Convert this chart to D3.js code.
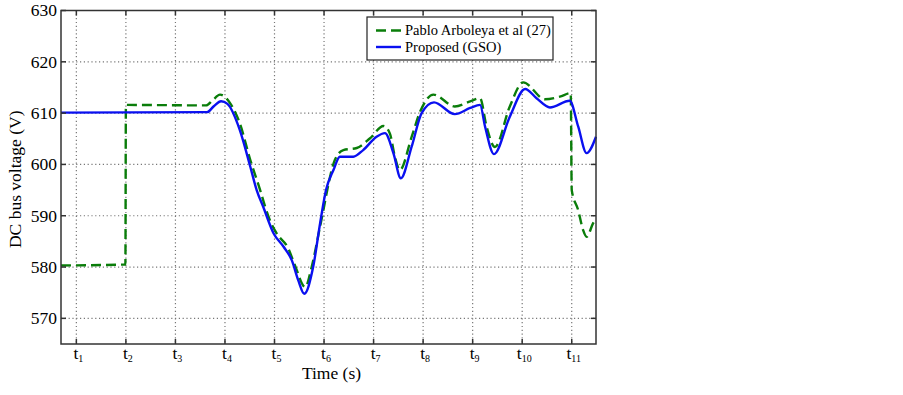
<!DOCTYPE html>
<html>
<head>
<meta charset="utf-8">
<script src="https://cdn.jsdelivr.net/npm/d3@7"></script>
<style>
  body { margin: 0; background: #fff; }
  text { font-family: "Liberation Serif", "DejaVu Serif", serif; fill: #000; }
</style>
</head>
<body>
<div id="chart"></div>
<script>
// time in units of the t_k marks, voltage in V
const tickTimes = [1, 2, 3, 4, 5, 6, 7, 8, 9, 10, 11];
const yTicks = [570, 580, 590, 600, 610, 620, 630];
const seriesNames = ['Pablo Arboleya et al (27)', 'Proposed (GSO)'];

const pabloT = [0.69, 1.99, 2.0, 3.62, 3.75, 3.9, 4.1, 4.3, 4.51, 4.71, 4.81, 4.88, 5.04, 5.28, 5.41, 5.62, 5.75, 5.92, 6.22, 6.39, 6.66, 6.93, 7.2, 7.33, 7.43, 7.53, 7.77, 7.94, 8.21, 8.64, 8.95, 9.15, 9.28, 9.45, 9.75, 10.02, 10.46, 10.76, 10.98, 11.0, 11.13, 11.23, 11.3, 11.43, 11.49];
const pabloV = [580.3, 580.5, 611.6, 611.5, 612.5, 613.6, 612.0, 608.0, 600.9, 595.0, 591.8, 589.8, 586.6, 583.6, 580.4, 576.1, 580.0, 587.9, 600.9, 602.8, 603.2, 605.1, 607.5, 606.0, 601.5, 598.9, 605.4, 610.3, 613.6, 611.3, 612.3, 612.9, 607.4, 603.4, 611.3, 616.0, 612.7, 613.2, 613.9, 595.0, 591.1, 587.2, 585.9, 588.5, 589.5];

const gsoT = [0.69, 3.64, 3.78, 3.92, 4.05, 4.3, 4.51, 4.64, 4.77, 4.98, 5.18, 5.35, 5.48, 5.6, 5.78, 5.92, 6.04, 6.19, 6.32, 6.59, 6.79, 7.06, 7.23, 7.4, 7.55, 7.77, 7.97, 8.22, 8.64, 8.95, 9.15, 9.25, 9.43, 9.75, 10.06, 10.29, 10.56, 10.96, 11.13, 11.3, 11.49];
const gsoV = [610.1, 610.2, 611.4, 612.3, 611.8, 606.7, 599.6, 595.0, 591.8, 586.6, 584.0, 581.3, 577.4, 574.8, 580.0, 588.5, 595.0, 598.9, 601.5, 601.5, 602.8, 605.4, 606.1, 602.2, 597.3, 603.5, 610.0, 612.1, 609.8, 611.0, 611.6, 607.4, 602.0, 609.3, 614.7, 612.9, 611.1, 612.4, 607.4, 602.2, 605.4];

const W = 903, H = 395;
const margin = {top: 10.5, right: 307, bottom: 51, left: 61};
const w = W - margin.left - margin.right;
const h = H - margin.top - margin.bottom;

const svg = d3.select('#chart').append('svg')
  .attr('width', W).attr('height', H);
const g = svg.append('g')
  .attr('transform', 'translate(' + margin.left + ',' + margin.top + ')');

const x = d3.scaleLinear().domain([0.69, 11.49]).range([0, w]);
const y = d3.scaleLinear().domain([565, 630]).range([h, 0]);

// grid
g.append('g').selectAll('line').data(tickTimes).join('line')
  .attr('x1', d => x(d)).attr('x2', d => x(d))
  .attr('y1', 0).attr('y2', h)
  .attr('stroke', '#777').attr('stroke-width', 1.2)
  .attr('stroke-dasharray', '1.2,2.6');
g.append('g').selectAll('line').data(yTicks.filter(d => d < 630)).join('line')
  .attr('x1', 0).attr('x2', w)
  .attr('y1', d => y(d)).attr('y2', d => y(d))
  .attr('stroke', '#777').attr('stroke-width', 1.2)
  .attr('stroke-dasharray', '1.2,2.6');

// lines
const line = (ts, vs) => d3.line()
  .x(i => x(ts[i])).y(i => y(vs[i]))
  .curve(d3.curveMonotoneX)(d3.range(ts.length));

g.append('path')
  .attr('d', line(pabloT, pabloV))
  .attr('fill', 'none').attr('stroke', '#0a7d0a')
  .attr('stroke-width', 2.4).attr('stroke-dasharray', '10,5');
g.append('path')
  .attr('d', line(gsoT, gsoV))
  .attr('fill', 'none').attr('stroke', '#0a10f0')
  .attr('stroke-width', 2.4);

// frame + inward ticks
const tickLen = 5;
const axisColor = '#333';
g.append('rect').attr('width', w).attr('height', h)
  .attr('fill', 'none').attr('stroke', axisColor).attr('stroke-width', 1.5);
const tk = g.append('g').attr('stroke', axisColor).attr('stroke-width', 1.5);
tickTimes.forEach(t => {
  tk.append('line').attr('x1', x(t)).attr('x2', x(t)).attr('y1', h).attr('y2', h - tickLen);
  tk.append('line').attr('x1', x(t)).attr('x2', x(t)).attr('y1', 0).attr('y2', tickLen);
});
yTicks.forEach(v => {
  tk.append('line').attr('x1', 0).attr('x2', tickLen).attr('y1', y(v)).attr('y2', y(v));
  tk.append('line').attr('x1', w).attr('x2', w - tickLen).attr('y1', y(v)).attr('y2', y(v));
});

// y tick labels
g.append('g').selectAll('text').data(yTicks).join('text')
  .attr('x', -4).attr('y', d => y(d)).attr('dy', '0.34em')
  .attr('text-anchor', 'end').attr('font-size', 17.5)
  .text(d => d);

// x tick labels t_k
const xl = g.append('g').selectAll('text').data(tickTimes).join('text')
  .attr('x', d => x(d) + 2).attr('y', h + 15)
  .attr('text-anchor', 'middle').attr('font-size', 17.5);
xl.append('tspan').text('t');
xl.append('tspan').attr('font-size', 10).attr('dy', 3).text(d => d);

// axis titles
g.append('text').attr('x', w / 2 + 3).attr('y', h + 35)
  .attr('text-anchor', 'middle').attr('font-size', 17.5).text('Time (s)');
g.append('text')
  .attr('transform', 'translate(' + (-40) + ',' + (h / 2 + 2) + ') rotate(-90)')
  .attr('text-anchor', 'middle').attr('font-size', 17.5).text('DC bus voltage (V)');

// legend
const lg = svg.append('g').attr('transform', 'translate(367,17)');
lg.append('rect').attr('width', 186).attr('height', 43)
  .attr('fill', '#fff').attr('stroke', '#222').attr('stroke-width', 1.2);
const legendStyles = [
  {color: '#0a7d0a', dash: '10,5'},
  {color: '#0a10f0', dash: null}
];
seriesNames.forEach((name, i) => {
  const yy = 13.5 + i * 16.5;
  lg.append('line').attr('x1', 9).attr('x2', 34).attr('y1', yy).attr('y2', yy)
    .attr('stroke', legendStyles[i].color).attr('stroke-width', 2.4)
    .attr('stroke-dasharray', legendStyles[i].dash);
  lg.append('text').attr('x', 38).attr('y', yy).attr('dy', '0.34em')
    .attr('font-size', 14.5).text(name);
});
</script>
</body>
</html>
